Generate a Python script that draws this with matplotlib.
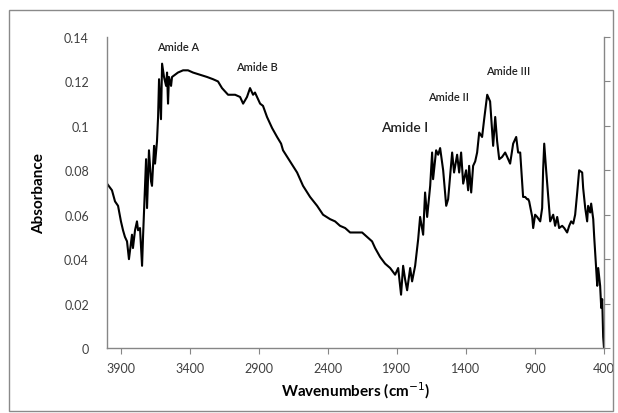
import matplotlib
matplotlib.use("Agg")
import matplotlib.pyplot as plt
from matplotlib.patches import Rectangle

plt.rcParams['font.family'] = ['Lato', 'DejaVu Sans']

# spectrum (wavenumber cm-1, absorbance)
wavenumber = [4000, 3964, 3942, 3920, 3899, 3884, 3870, 3855, 3841, 3819, 3812, 3797,
              3783, 3775, 3761, 3746, 3739, 3725, 3717, 3710, 3696, 3681, 3674, 3659,
              3652, 3638, 3630, 3623, 3609, 3601, 3587, 3572, 3565, 3558, 3551, 3536,
              3529, 3507, 3486, 3449, 3413, 3377, 3326, 3275, 3232, 3196, 3167, 3123,
              3072, 3036, 3014, 2986, 2964, 2942, 2928, 2906, 2891, 2870, 2841, 2804,
              2768, 2739, 2725, 2674, 2623, 2580, 2529, 2478, 2435, 2384, 2348, 2312,
              2275, 2239, 2203, 2152, 2116, 2080, 2058, 2022, 1986, 1949, 1913, 1891,
              1870, 1855, 1841, 1826, 1804, 1790, 1768, 1746, 1732, 1710, 1696, 1681,
              1659, 1645, 1638, 1616, 1601, 1587, 1565, 1543, 1529, 1500, 1486, 1464,
              1449, 1435, 1420, 1399, 1384, 1377, 1362, 1348, 1333, 1319, 1304, 1283,
              1268, 1246, 1225, 1203, 1188, 1174, 1159, 1138, 1116, 1101, 1080, 1058,
              1036, 1022, 1007, 993, 986, 971, 957, 949, 942, 920, 913, 899,
              884, 862, 848, 841, 833, 819, 804, 790, 775, 768, 754, 739,
              725, 703, 688, 667, 652, 638, 623, 609, 594, 580, 558, 551,
              536, 522, 515, 500, 493, 478, 471, 457, 449, 442, 428, 420,
              413, 406, 400]
absorbance = [0.074, 0.071, 0.066, 0.064, 0.057, 0.053, 0.050, 0.048, 0.040, 0.051, 0.045, 0.053,
              0.057, 0.053, 0.054, 0.037, 0.050, 0.072, 0.085, 0.063, 0.089, 0.075, 0.073, 0.091,
              0.083, 0.093, 0.104, 0.121, 0.103, 0.128, 0.122, 0.118, 0.124, 0.110, 0.122, 0.118,
              0.122, 0.123, 0.124, 0.125, 0.125, 0.124, 0.123, 0.122, 0.121, 0.120, 0.117, 0.114,
              0.114, 0.113, 0.110, 0.113, 0.117, 0.114, 0.115, 0.112, 0.110, 0.109, 0.104, 0.099,
              0.095, 0.092, 0.089, 0.084, 0.079, 0.073, 0.068, 0.064, 0.060, 0.058, 0.057, 0.055,
              0.054, 0.052, 0.052, 0.052, 0.050, 0.048, 0.045, 0.041, 0.038, 0.036, 0.033, 0.036,
              0.024, 0.037, 0.031, 0.026, 0.036, 0.030, 0.037, 0.049, 0.059, 0.051, 0.070, 0.059,
              0.073, 0.088, 0.076, 0.089, 0.087, 0.090, 0.080, 0.064, 0.067, 0.088, 0.079, 0.087,
              0.079, 0.088, 0.074, 0.080, 0.071, 0.082, 0.070, 0.082, 0.084, 0.088, 0.097, 0.095,
              0.103, 0.114, 0.111, 0.091, 0.104, 0.093, 0.085, 0.086, 0.088, 0.086, 0.083, 0.092,
              0.095, 0.088, 0.088, 0.075, 0.068, 0.068, 0.067, 0.067, 0.066, 0.059, 0.054, 0.060,
              0.059, 0.057, 0.063, 0.080, 0.092, 0.080, 0.068, 0.057, 0.059, 0.060, 0.055, 0.059,
              0.054, 0.055, 0.054, 0.052, 0.055, 0.057, 0.056, 0.060, 0.070, 0.080, 0.079, 0.072,
              0.063, 0.057, 0.064, 0.061, 0.065, 0.058, 0.050, 0.036, 0.028, 0.036, 0.028, 0.018,
              0.022, 0.005, 0.000]

x_ticks = [3900, 3400, 2900, 2400, 1900, 1400, 900, 400]
y_ticks = [0, 0.02, 0.04, 0.06, 0.08, 0.1, 0.12, 0.14]
y_labels = ['0', '0.02', '0.04', '0.06', '0.08', '0.1', '0.12', '0.14']

# band labels: text, wavenumber, absorbance, font size
band_names = ['Amide A', 'Amide B', 'Amide I', 'Amide II', 'Amide III']
band_wn = [3486, 2913, 1841, 1529, 1094]
band_abs = [0.1355, 0.1265, 0.0995, 0.113, 0.1247]
band_size = [8, 8, 10, 8, 8]

fig = plt.figure(figsize=(6.18, 4.14), dpi=100)
fig.patches.append(Rectangle((9 / 618, 2 / 414), 604 / 618, 401 / 414,
                             transform=fig.transFigure, fill=False,
                             edgecolor='#8a8a8a', linewidth=1.0))
ax = fig.add_axes([107 / 618, 1 - 349 / 414, 497 / 618, 311 / 414])

ax.plot(wavenumber, absorbance, color='black', linewidth=1.5)

ax.set_xlim(4000, 400)
ax.set_ylim(0, 0.14)
ax.set_xticks(x_ticks)
ax.set_yticks(y_ticks)
ax.set_yticklabels(y_labels)

grey = '#868686'
ax.spines['top'].set_visible(False)
for s in ['left', 'right', 'bottom']:
    ax.spines[s].set_color(grey)
    ax.spines[s].set_linewidth(1.0)
ax.tick_params(axis='x', direction='out', length=4, color=grey, labelsize=9,
               labelcolor='#404040', pad=6)
ax.tick_params(axis='y', left=False, right=True, direction='out', length=4,
               color=grey, labelsize=9, labelcolor='#404040', pad=9)

ax.set_ylabel('Absorbance', fontsize=11, fontweight='bold', labelpad=13)
ax.set_xlabel('Wavenumbers (cm$^{-1}$)', fontsize=11, fontweight='bold', labelpad=4)

for name, wn, ab, fs in zip(band_names, band_wn, band_abs, band_size):
    ax.text(wn, ab, name, fontsize=fs, ha='center', va='center', color='#222222',
            fontweight='semibold')

fig.savefig('out.png', dpi=100)
